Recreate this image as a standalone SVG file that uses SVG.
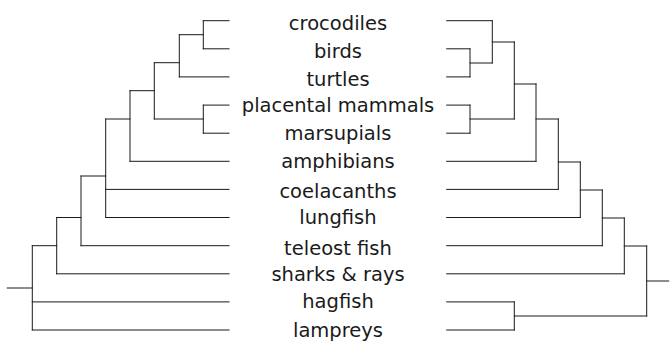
<svg xmlns="http://www.w3.org/2000/svg" width="670" height="350" viewBox="0 0 670 350">
<style>
.e{fill:none;stroke:#1a1a1a;stroke-width:1;stroke-linecap:square}
.t{font-family:"DejaVu Sans",sans-serif;font-size:19.5px;fill:#1a1a1a;text-anchor:middle}
</style>
<rect width="670" height="350" fill="#fff"/>
<g id="connectors">
<path class="e" d="M203.3 20.7H229M203.3 48.8H229M203.3 20.7V48.8M179.3 34.7H203.3M179.3 76.9H229M179.3 34.7V76.9M154.3 62.7H179.3M203.3 105.1H229M203.3 133.2H229M203.3 105.1V133.2M154.3 119H203.3M154.3 62.7V119M130 90.7H154.3M130 161.3H229M130 90.7V161.3M105.7 119H130M105.7 189.4H229M105.7 217.5H229M105.7 119V217.5M81 176H105.7M81 245.7H229M81 176V245.7M56.7 217.5H81M56.7 273.8H229M56.7 217.5V273.8M32.3 245.7H56.7M32.3 301.9H229M32.3 330H229M32.3 245.7V330M7.3 288H32.3"/>
<path class="e" d="M446.7 20.7H492.3M446.7 48.8H470M446.7 76.9H470M470 48.8V76.9M470 63H492.3M492.3 20.7V63M492.3 42H514.3M446.7 105.1H470M446.7 133.2H470M470 105.1V133.2M470 119H514.3M514.3 42V119M514.3 84H536M446.7 161.3H536M536 84V161.3M536 119H558.3M446.7 189.4H558.3M558.3 119V189.4M558.3 162H580.3M446.7 217.5H580.3M580.3 162V217.5M580.3 190H602.3M446.7 245.7H602.3M602.3 190V245.7M602.3 218H624.3M446.7 273.8H624.3M624.3 218V273.8M624.3 246H646.7M446.7 301.9H514.3M446.7 330H514.3M514.3 301.9V330M514.3 316H646.7M646.7 246V316M646.7 281H668.7"/>
</g>
<g id="crocodiles"><text class="t" x="338" y="30">crocodiles</text></g>
<g id="birds"><text class="t" x="338" y="58">birds</text></g>
<g id="turtles"><text class="t" x="338" y="86">turtles</text></g>
<g id="placental-mammals"><text class="t" x="338" y="111.8">placental mammals</text></g>
<g id="marsupials"><text class="t" x="338" y="140">marsupials</text></g>
<g id="amphibians"><text class="t" x="338" y="168">amphibians</text></g>
<g id="coelacanths"><text class="t" x="338" y="198.4">coelacanths</text></g>
<g id="lungfish"><text class="t" x="338" y="224.2">lungfish</text></g>
<g id="teleost-fish"><text class="t" x="338" y="254.7">teleost fish</text></g>
<g id="sharks-rays"><text class="t" x="338" y="280.5">sharks &amp; rays</text></g>
<g id="hagfish"><text class="t" x="338" y="308.4">hagfish</text></g>
<g id="lampreys"><text class="t" x="338" y="336.5">lampreys</text></g>
</svg>
